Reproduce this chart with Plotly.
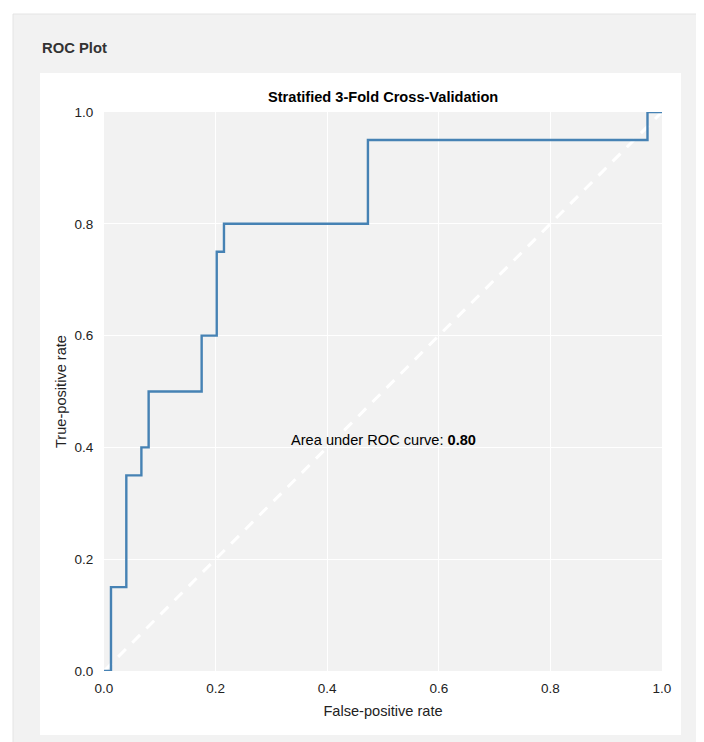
import plotly.graph_objects as go

# ROC curve (step points)
fpr = [0.0, 0.0125, 0.0125, 0.04, 0.04, 0.067, 0.067, 0.08, 0.08, 0.175, 0.175,
       0.202, 0.202, 0.215, 0.215, 0.473, 0.473, 0.974, 0.974, 1.0]
tpr = [0.0, 0.0, 0.15, 0.15, 0.35, 0.35, 0.40, 0.40, 0.50, 0.50, 0.60,
       0.60, 0.75, 0.75, 0.80, 0.80, 0.95, 0.95, 1.0, 1.0]
diag_x = [0.0, 1.0]
diag_y = [0.0, 1.0]
auc = 0.80
tick_vals = [0.0, 0.2, 0.4, 0.6, 0.8, 1.0]
tick_text = ["0.0", "0.2", "0.4", "0.6", "0.8", "1.0"]

OFF = 8  # default page body margin
W, H = 704 - OFF, 742 - OFF
L, R, T, B = 104 - OFF, 662 - OFF, 112 - OFF, 671 - OFF
PW, PH = R - L, B - T


def px(x):
    return (x - OFF - L) / PW


def py(y):
    return (B - (y - OFF)) / PH


FONT = "Liberation Sans, Arial, sans-serif"

fig = go.Figure()
fig.add_trace(go.Scatter(x=diag_x, y=diag_y, mode="lines",
                         line=dict(color="white", width=3, dash="11px,9px"),
                         hoverinfo="skip", showlegend=False))
fig.add_trace(go.Scatter(x=fpr, y=tpr, mode="lines",
                         line=dict(color="#4682b4", width=2.4),
                         showlegend=False))

shapes = [
    dict(type="rect", xref="paper", yref="paper", layer="below",
         x0=px(13), x1=px(730), y0=py(14), y1=py(770),
         fillcolor="#f2f2f2", line=dict(color="#e4e4e4", width=1)),
    dict(type="rect", xref="paper", yref="paper", layer="below",
         x0=px(40), x1=px(681), y0=py(73), y1=py(735),
         fillcolor="white", line=dict(width=0)),
    dict(type="rect", xref="paper", yref="paper", layer="below",
         x0=0, x1=1, y0=0, y1=1,
         fillcolor="#f2f2f2", line=dict(width=0)),
]

annotations = [
    dict(text="<b>ROC Plot</b>", xref="paper", yref="paper",
         x=px(40), y=py(48), xanchor="left", yanchor="middle",
         showarrow=False, font=dict(size=14.8, color="#333333", family=FONT)),
    dict(text="<b>Stratified 3-Fold Cross-Validation</b>", xref="paper", yref="paper",
         x=0.5, y=py(97), xanchor="center", yanchor="middle",
         showarrow=False, font=dict(size=14.6, color="#000000", family=FONT)),
    dict(text=f"Area under ROC curve: <b>{auc:.2f}</b>", xref="x", yref="y",
         x=0.5, y=0.413, xanchor="center", yanchor="middle",
         showarrow=False, font=dict(size=14.6, color="#000000", family=FONT)),
]

fig.update_layout(
    width=W, height=H,
    margin=dict(l=L, r=W - R, t=T, b=H - B, pad=0),
    paper_bgcolor="white",
    plot_bgcolor="rgba(0,0,0,0)",
    shapes=shapes,
    annotations=annotations,
    font=dict(family=FONT, size=13.5, color="#222222"),
    xaxis=dict(range=[0, 1], tickvals=tick_vals, ticktext=tick_text,
               showgrid=True, gridcolor="white", gridwidth=1, zeroline=False,
               showline=False, ticks="outside", ticklen=5,
               tickcolor="rgba(0,0,0,0)",
               title=dict(text="False-positive rate", standoff=10,
                          font=dict(size=14.6, color="#222222"))),
    yaxis=dict(range=[0, 1], tickvals=tick_vals, ticktext=tick_text,
               showgrid=True, gridcolor="white", gridwidth=1, zeroline=False,
               showline=False, ticks="outside", ticklen=7,
               tickcolor="rgba(0,0,0,0)",
               title=dict(text="True-positive rate", standoff=4,
                          font=dict(size=14.6, color="#222222"))),
)

fig.write_html("out.html")
